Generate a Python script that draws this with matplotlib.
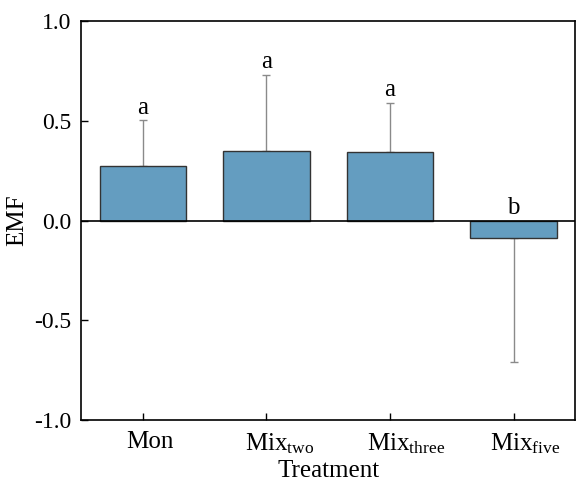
import numpy as np
import matplotlib
matplotlib.use('Agg')
import matplotlib.pyplot as plt
import matplotlib.transforms as mtransforms

# Datos
treatments = ['Mon', r'Mix$_{\mathrm{two}}$', r'Mix$_{\mathrm{three}}$', r'Mix$_{\mathrm{five}}$']
emf = [0.273, 0.348, 0.345, -0.088]
err = [0.230, 0.383, 0.245, 0.620]
letters = ['a', 'a', 'a', 'b']

# Desplazamiento horizontal de las etiquetas (px), como en el original
label_shift = [7, 13, 16, 12]

plt.rcParams['font.family'] = ['Liberation Serif', 'DejaVu Serif']
plt.rcParams['mathtext.fontset'] = 'custom'
plt.rcParams['mathtext.rm'] = 'Liberation Serif'
plt.rcParams['mathtext.it'] = 'Liberation Serif:italic'

fig = plt.figure(figsize=(5.76, 4.83), dpi=100)
ax = fig.add_axes([0.1406, 0.1304, 0.8582, 0.8261])

x = np.arange(len(treatments))

# Las barras de error solo van hacia afuera del cero
err_low = [e if v < 0 else 0 for v, e in zip(emf, err)]
err_up = [e if v >= 0 else 0 for v, e in zip(emf, err)]

ax.bar(x, emf, width=0.7, color='#649dc0', edgecolor='#333333', linewidth=1.0, zorder=2)
ax.errorbar(x, emf, yerr=[err_low, err_up], fmt='none', ecolor='#8a8a8a',
            elinewidth=1.0, capsize=3, capthick=1.0, zorder=1)
ax.axhline(0, color='black', linewidth=1.2, zorder=3)

for i in range(len(x)):
    if emf[i] >= 0:
        y = emf[i] + err[i]
    else:
        y = 0
    ax.annotate(letters[i], (x[i], y), xytext=(0, 1), textcoords='offset points',
                ha='center', va='bottom', fontsize=18)

ax.set_xlim(-0.5, 3.5)
ax.set_ylim(-1.0, 1.0)
ax.set_yticks([-1.0, -0.5, 0.0, 0.5, 1.0])
ax.set_yticklabels(['-1.0', '-0.5', '0.0', '0.5', '1.0'])
ax.set_xticks(x)
ax.set_xticklabels(treatments)

ax.tick_params(axis='y', direction='in', length=5, width=1.0, labelsize=17, pad=7)
ax.tick_params(axis='x', direction='in', length=5, width=1.0, labelsize=18, pad=8)

for lab, dx in zip(ax.get_xticklabels(), label_shift):
    off = mtransforms.ScaledTranslation(dx / 100, 0, fig.dpi_scale_trans)
    lab.set_transform(lab.get_transform() + off)

for sp in ax.spines.values():
    sp.set_linewidth(1.2)

ax.set_xlabel('Treatment', fontsize=18, labelpad=3)
ax.set_ylabel('EMF', fontsize=18, labelpad=4)

plt.savefig('out.png', dpi=100)
